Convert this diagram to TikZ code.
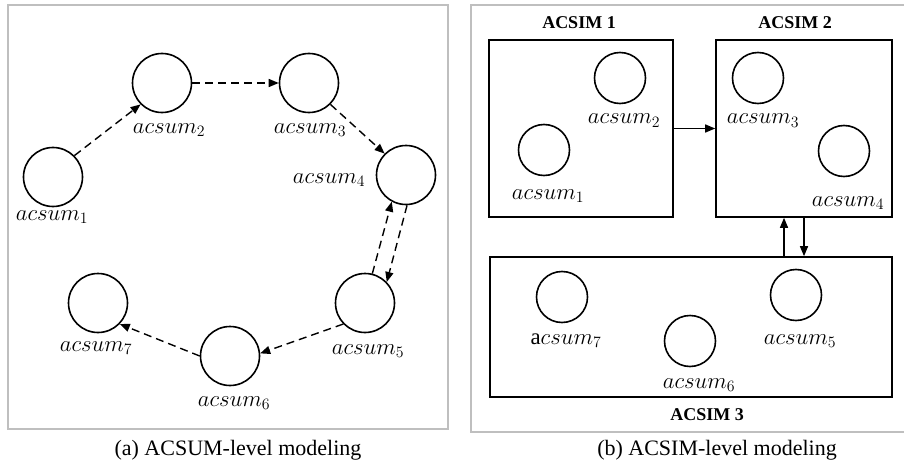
\documentclass[tikz,border=0pt]{standalone}
\usepackage{fontspec}
\setmainfont{Liberation Serif}
\usetikzlibrary{arrows.meta}
\newcommand{\labtext}[1]{\scalebox{1.1}{$#1$}}
\begin{document}
\begin{tikzpicture}[x=1pt,y=-1pt,
  frame/.style={draw=black!25,line width=1.6pt},
  ring/.style={circle,draw,line width=1.6pt,inner sep=0pt},
  bigring/.style={ring,minimum size=59pt},
  smallring/.style={ring,minimum size=51pt},
  lbl/.style={anchor=base,inner sep=0pt,font=\fontsize{20.74}{24}\selectfont},
  captext/.style={anchor=base,inner sep=0pt,font=\fontsize{22}{26}\selectfont},
  titletext/.style={anchor=base,inner sep=0pt,font=\fontsize{18}{21}\selectfont\bfseries},
  boxnode/.style={draw,line width=1.6pt,inner sep=0pt},
  darr/.style={line width=1.4pt,dash pattern=on 8pt off 5pt,-{Triangle[length=10pt,width=8pt]}},
  sarr/.style={line width=1.4pt,-{Triangle[length=10pt,width=8pt]}}]
\useasboundingbox (0,0) rectangle (904,468);
\clip (0,0) rectangle (904,468);
% frames
\draw[frame] (8,5) rectangle (448,429);
\draw[frame] (915,5) -- (471,5) -- (471,432) -- (915,432);
% ---- left panel ----
\node[bigring] (c1) at (53,177) {};
\node[bigring] (c2) at (162,83) {};
\node[bigring] (c3) at (309,83) {};
\node[bigring] (c4) at (406,175) {};
\node[bigring] (c5) at (365,303) {};
\node[bigring] (c6) at (230,356) {};
\node[bigring] (c7) at (98,303) {};
\node[lbl] (l1) at (52,220) {\labtext{acsum_1}};
\node[lbl] (l2) at (169,133) {\labtext{acsum_2}};
\node[lbl] (l3) at (310,133) {\labtext{acsum_3}};
\node[lbl] (l4) at (329,183) {\labtext{acsum_4}};
\node[lbl] (l5) at (368,354) {\labtext{acsum_5}};
\node[lbl] (l6) at (234,406) {\labtext{acsum_6}};
\node[lbl] (l7) at (96,351) {\labtext{acsum_7}};
\draw[darr] (c1.45) -- (c2.225);
\draw[darr] (c2.east) -- (c3.west);
\draw[darr] (c3.-45) -- (c4.135);
\draw[darr] (c5.76) -- (c4.242);
\draw[darr] (c4.272) -- (c5.44);
\draw[darr] (c5.224) -- (c6.5);
\draw[darr] (c6.west) -- (c7.-44);
\node[captext] (capa) at (238,455) {(a) ACSUM-level modeling};
% ---- right panel ----
\node[boxnode,minimum width=184pt,minimum height=177pt] (b1) at (581,128.5) {};
\node[boxnode,minimum width=176pt,minimum height=177pt] (b2) at (804,128.5) {};
\node[boxnode,minimum width=402pt,minimum height=140pt] (b3) at (691,327) {};
\node[titletext] (t1) at (579,29) {ACSIM 1};
\node[titletext] (t2) at (795,29) {ACSIM 2};
\node[titletext] (t3) at (707,420) {ACSIM 3};
\node[smallring] (r2) at (620,78) {};
\node[smallring] (r1) at (544,150) {};
\node[smallring] (r3) at (758,78) {};
\node[smallring] (r4) at (844,151) {};
\node[smallring] (r7) at (562,297) {};
\node[smallring] (r6) at (690,341) {};
\node[smallring] (r5) at (796,295) {};
\node[lbl] (m1) at (548,199) {\labtext{acsum_1}};
\node[lbl] (m2) at (624,124) {\labtext{acsum_2}};
\node[lbl] (m3) at (763,124) {\labtext{acsum_3}};
\node[lbl] (m4) at (848,206) {\labtext{acsum_4}};
\node[lbl] (m7) at (566,344) {\labtext{\mathrm{a}csum_7}};
\node[lbl] (m6) at (699,388) {\labtext{acsum_6}};
\node[lbl] (m5) at (800,344) {\labtext{acsum_5}};
\draw[sarr] (b1.east) -- (b2.west);
\draw[sarr] ([xshift=-20pt]b2.south |- b3.north) -- ([xshift=-20pt]b2.south);
\draw[sarr] (b2.south) -- (b2.south |- b3.north);
\node[captext] (capb) at (717,455) {(b) ACSIM-level modeling};
\end{tikzpicture}
\end{document}
